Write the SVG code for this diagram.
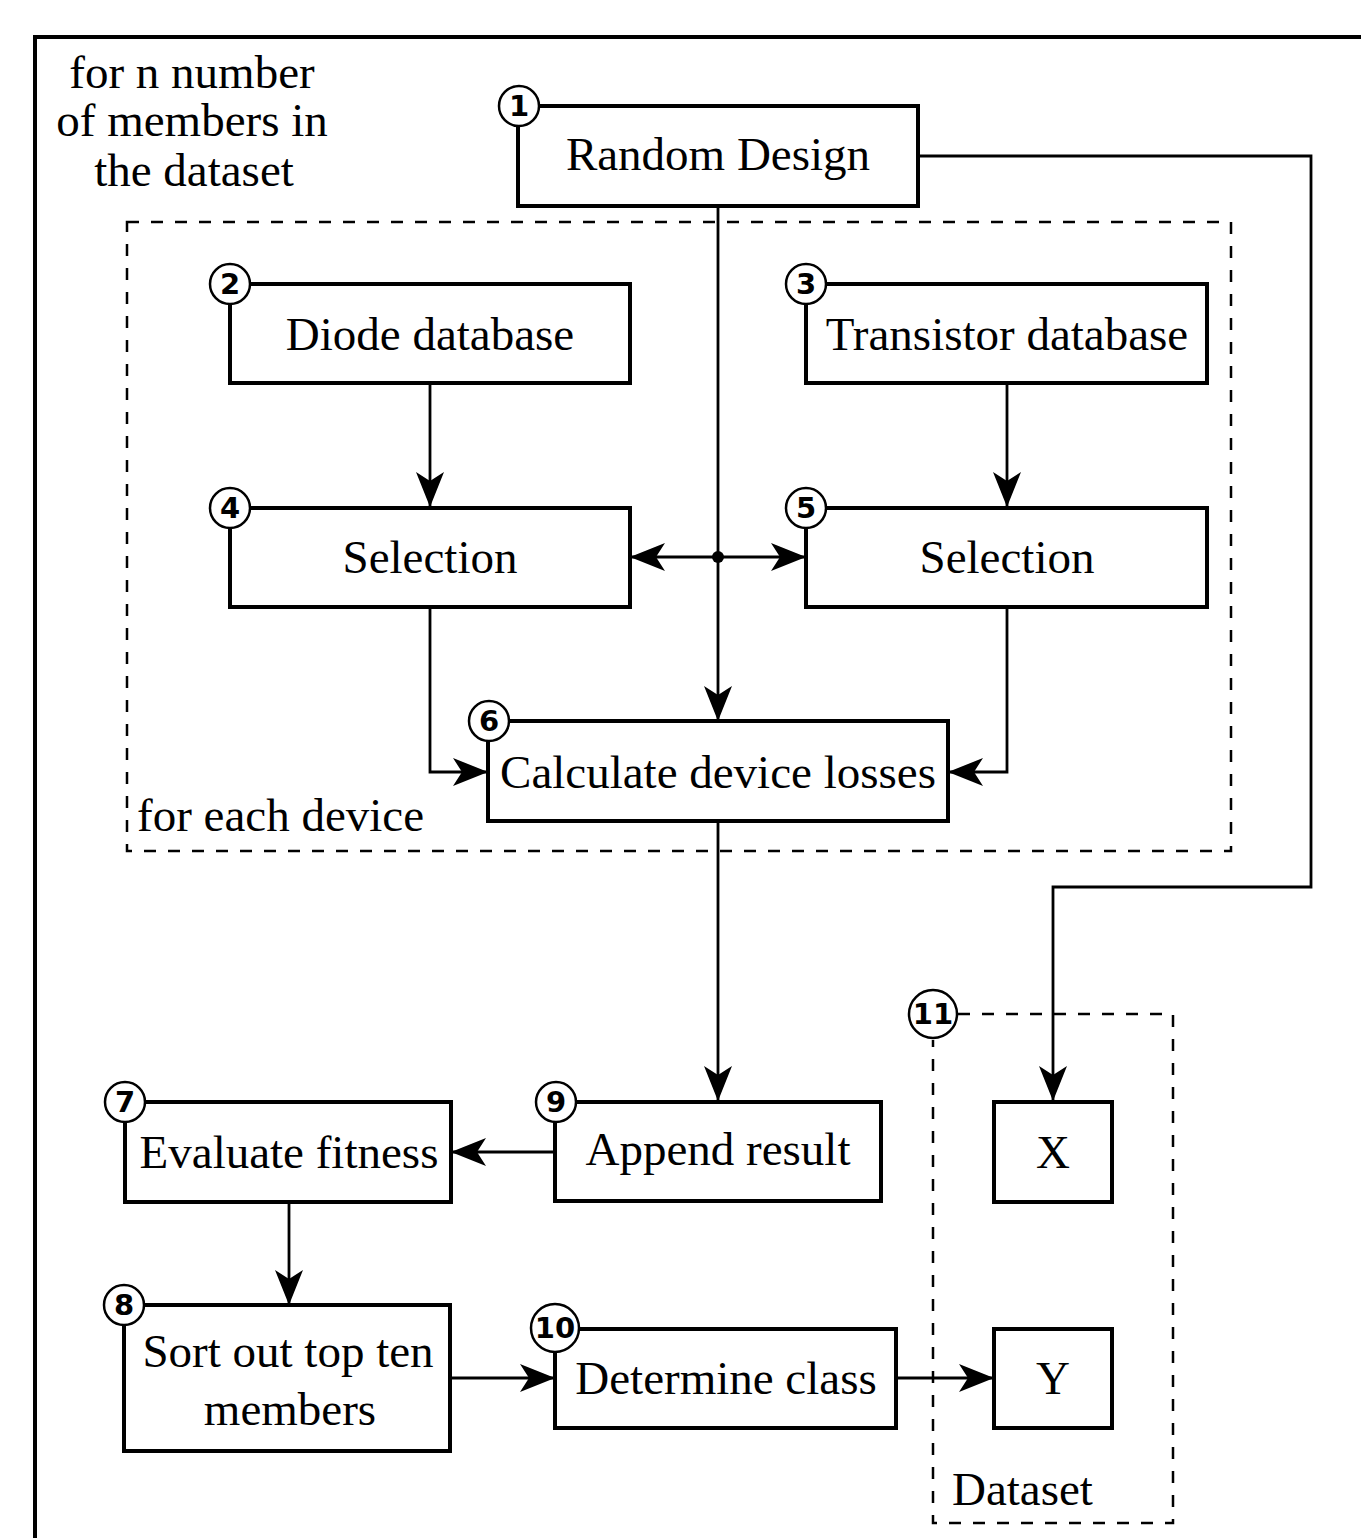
<svg xmlns="http://www.w3.org/2000/svg" width="1361" height="1538" viewBox="0 0 1361 1538">
<style>
.box{fill:#fff;stroke:#000;stroke-width:4}
.t{font-family:'Liberation Serif','Times New Roman','DejaVu Serif',serif;font-size:47px;fill:#000;text-anchor:middle}
.tl{font-family:'Liberation Serif','Times New Roman','DejaVu Serif',serif;font-size:47px;fill:#000}
.c{fill:#fff;stroke:#000;stroke-width:2.5}
.n{font-family:'DejaVu Sans',sans-serif;font-weight:bold;font-size:29px;fill:#000;text-anchor:middle}
.ln{fill:none;stroke:#000;stroke-width:2.8}
.dash{fill:none;stroke:#000;stroke-width:2.5;stroke-dasharray:12 12}
</style>
<defs>
<marker id="ah" markerUnits="userSpaceOnUse" markerWidth="40" markerHeight="32" viewBox="-36 -16 40 32" refX="0" refY="0" orient="auto">
<path d="M0,0 L-35,-14 L-26,0 L-35,14 Z" fill="#000"/>
</marker>
</defs>
<rect width="1361" height="1538" fill="#fff"/>
<path d="M35,1540 V37 H1363" fill="none" stroke="#000" stroke-width="4"/>
<g id="outer-label">
<text class="t" x="192" y="88" font-family="Liberation Serif, serif">for n number</text>
<text class="t" x="192" y="136">of members in</text>
<text class="t" x="194" y="186">the dataset</text>
</g>
<g id="device-loop">
<rect class="dash" x="127" y="222" width="1104" height="629"/>
<text class="tl" x="137" y="831">for each device</text>
</g>
<g id="dataset-group">
<path class="dash" d="M958,1014 H1173 V1523 H933 V1040"/>
<text class="tl" x="952" y="1505">Dataset</text>
</g>
<g id="connectors">
<path class="ln" d="M918,156 H1311 V887 H1053 V1101" marker-end="url(#ah)"/>
<path class="ln" d="M718,206 V721" marker-end="url(#ah)"/>
<path class="ln" d="M718,557 H630" marker-end="url(#ah)"/>
<path class="ln" d="M718,557 H806" marker-end="url(#ah)"/>
<circle cx="718" cy="557" r="6" fill="#000"/>
<path class="ln" d="M430,383 V507" marker-end="url(#ah)"/>
<path class="ln" d="M1007,383 V507" marker-end="url(#ah)"/>
<path class="ln" d="M430,607 V772 H488" marker-end="url(#ah)"/>
<path class="ln" d="M1007,607 V772 H948" marker-end="url(#ah)"/>
<path class="ln" d="M718,821 V1101" marker-end="url(#ah)"/>
<path class="ln" d="M555,1152 H451" marker-end="url(#ah)"/>
<path class="ln" d="M289,1202 V1305" marker-end="url(#ah)"/>
<path class="ln" d="M450,1378 H555" marker-end="url(#ah)"/>
<path class="ln" d="M896,1378 H994" marker-end="url(#ah)"/>
</g>
<g id="n1"><rect class="box" x="518" y="106" width="400" height="100"/><text class="t" x="718" y="170">Random Design</text><circle class="c" cx="519" cy="106" r="20"/><text class="n" x="519" y="116">1</text></g>
<g id="n2"><rect class="box" x="230" y="284" width="400" height="99"/><text class="t" x="430" y="350">Diode database</text><circle class="c" cx="230" cy="284" r="20"/><text class="n" x="230" y="294">2</text></g>
<g id="n3"><rect class="box" x="806" y="284" width="401" height="99"/><text class="t" x="1007" y="350">Transistor database</text><circle class="c" cx="806" cy="284" r="20"/><text class="n" x="806" y="294">3</text></g>
<g id="n4"><rect class="box" x="230" y="508" width="400" height="99"/><text class="t" x="430" y="573">Selection</text><circle class="c" cx="230" cy="508" r="20"/><text class="n" x="230" y="518">4</text></g>
<g id="n5"><rect class="box" x="806" y="508" width="401" height="99"/><text class="t" x="1007" y="573">Selection</text><circle class="c" cx="806" cy="508" r="20"/><text class="n" x="806" y="518">5</text></g>
<g id="n6"><rect class="box" x="488" y="721" width="460" height="100"/><text class="t" x="718" y="788">Calculate device losses</text><circle class="c" cx="489" cy="721" r="20"/><text class="n" x="489" y="731">6</text></g>
<g id="n7"><rect class="box" x="125" y="1102" width="326" height="100"/><text class="t" x="289" y="1168">Evaluate fitness</text><circle class="c" cx="125" cy="1102" r="20"/><text class="n" x="125" y="1112">7</text></g>
<g id="n8"><rect class="box" x="124" y="1305" width="326" height="146"/><text class="t" x="288" y="1367">Sort out top ten</text><text class="t" x="290" y="1425">members</text><circle class="c" cx="124" cy="1305" r="20"/><text class="n" x="124" y="1315">8</text></g>
<g id="n9"><rect class="box" x="555" y="1102" width="326" height="99"/><text class="t" x="718" y="1165">Append result</text><circle class="c" cx="556" cy="1102" r="20"/><text class="n" x="556" y="1112">9</text></g>
<g id="n10"><rect class="box" x="555" y="1329" width="341" height="99"/><text class="t" x="726" y="1394">Determine class</text><circle class="c" cx="555" cy="1328" r="24"/><text class="n" x="555" y="1338">10</text></g>
<g id="n11"><circle class="c" cx="933" cy="1014" r="24"/><text class="n" x="933" y="1024">11</text></g>
<g id="nX"><rect class="box" x="994" y="1102" width="118" height="100"/><text class="t" x="1053" y="1168">X</text></g>
<g id="nY"><rect class="box" x="994" y="1329" width="118" height="99"/><text class="t" x="1053" y="1394">Y</text></g>
</svg>
